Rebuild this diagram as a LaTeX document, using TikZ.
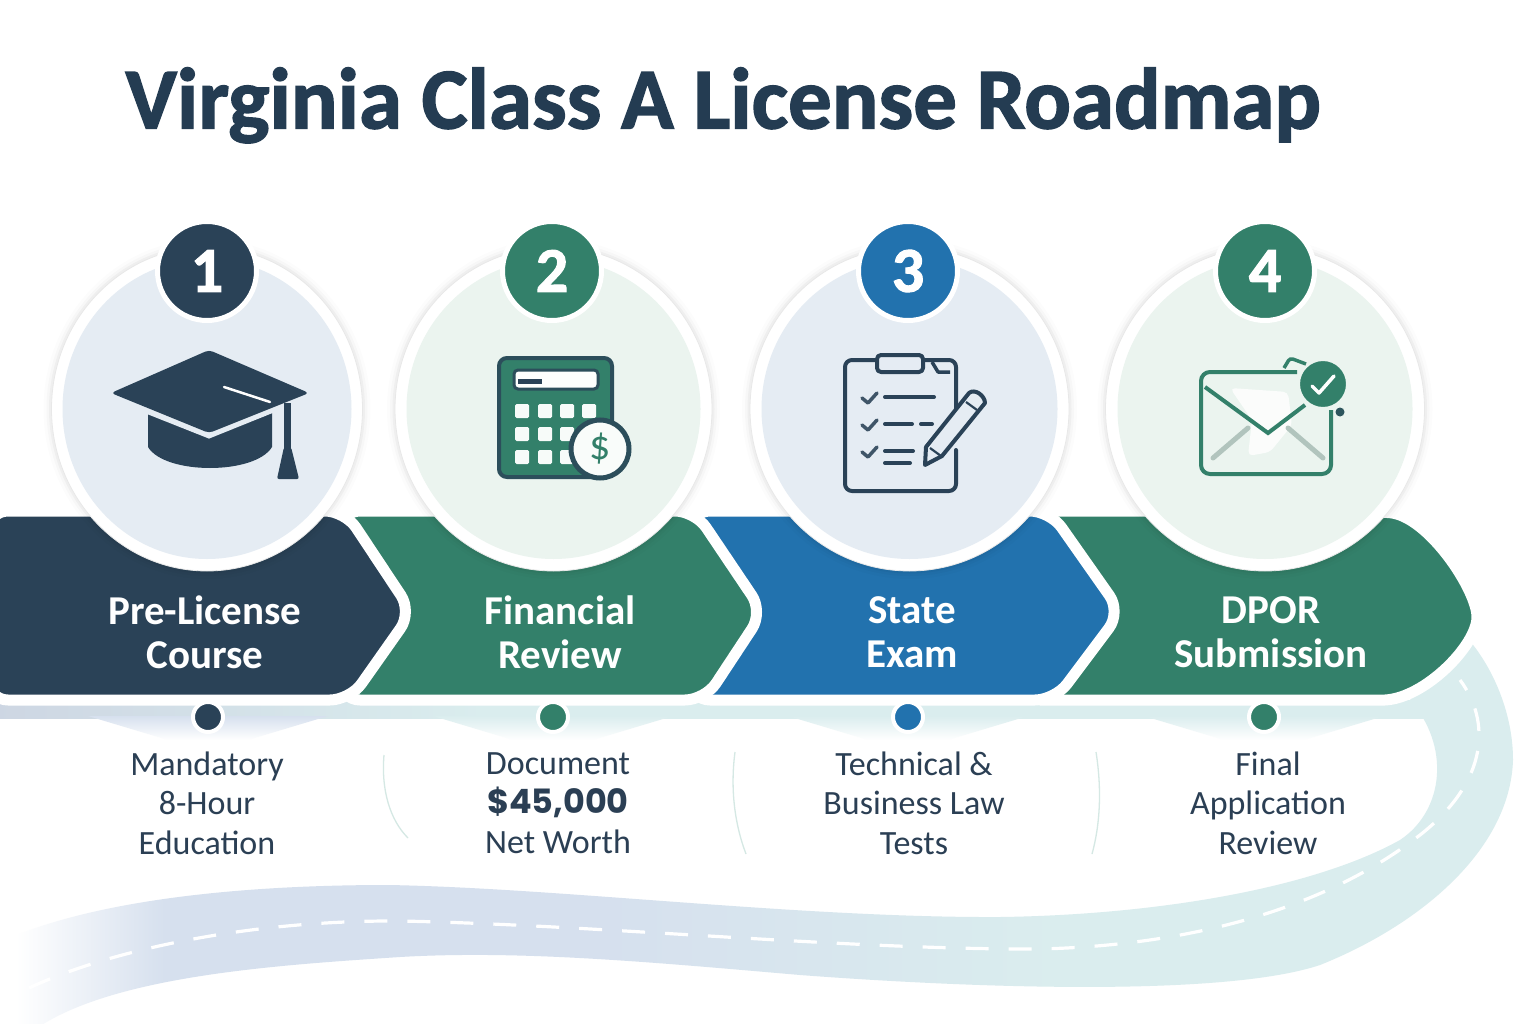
\documentclass[tikz,border=0pt]{standalone}
\usepackage{fontspec}
\setmainfont{Carlito}
\newfontfamily\heavyfont[BoldFont=Carlito Bold,BoldFeatures={FakeBold=1.6}]{Carlito}
\newfontfamily\widefont{Poppins}
\usetikzlibrary{shapes.geometric}
\definecolor{navy}{HTML}{2A4257}
\definecolor{deepnavy}{HTML}{243C52}
\definecolor{forest}{HTML}{33806A}
\definecolor{ocean}{HTML}{2272AE}
\definecolor{paleblue}{HTML}{E5ECF3}
\definecolor{palegreen}{HTML}{EBF4EF}
\definecolor{ink}{HTML}{2B3F54}
\definecolor{roadblue}{HTML}{D6E0EE}
\definecolor{roadteal}{HTML}{DAEDEE}
\definecolor{sepline}{HTML}{D5E8E4}
\pgfdeclarehorizontalshading{roadfade}{100bp}{color(0bp)=(white); color(25.6bp)=(white); color(30.5bp)=(roadblue); color(45bp)=(roadblue); color(60bp)=(roadteal); color(100bp)=(roadteal)}
\pgfdeclarehorizontalshading{bandfade}{100bp}{color(0bp)=(roadblue!90!gray); color(25bp)=(roadblue!90!gray); color(42bp)=(roadteal); color(100bp)=(roadteal)}
\tikzset{
  chevron/.style={draw=white,line width=11pt,rounded corners=20pt,line join=round},
  ring/.style={ellipse,fill=white,draw=black!9,line width=.8pt,inner sep=0pt},
  disc/.style={ellipse,inner sep=0pt},
  badge/.style={circle,draw=white,line width=5pt,minimum size=99pt,inner sep=0pt,text=white,font=\heavyfont\bfseries\fontsize{64}{64}\selectfont},
  dot/.style={circle,draw=white,line width=4pt,minimum size=30pt,inner sep=0pt},
  steplabel/.style={align=center,text=white,font=\bfseries\fontsize{41}{44}\selectfont},
  note/.style={align=center,text=ink,font=\fontsize{34}{39.5}\selectfont},
  sep/.style={draw=sepline,line width=1.3pt},
  iconline/.style={line width=4pt,line cap=round,line join=round}
}
\begin{document}
\begin{tikzpicture}[x=1pt,y=-1pt]
\useasboundingbox (0,0) rectangle (1536,1024);
\fill[white] (0,0) rectangle (1536,1024);

\shade[shading=roadfade] (-2,943) .. controls (90,900) and (240,885) .. (388,885)
  .. controls (560,888) and (800,918) .. (1000,917) .. controls (1150,915) and (1310,890) .. (1400,840)
  .. controls (1445,810) and (1450,745) .. (1410,700) -- (1460,630) .. controls (1490,660) and (1513,710) .. (1513,760)
  .. controls (1510,850) and (1420,925) .. (1320,965) .. controls (1230,995) and (1000,990) .. (800,975)
  .. controls (650,962) and (520,950) .. (400,957) .. controls (280,965) and (120,975) .. (40,1026) -- (-2,1026) -- cycle;
\draw[white,line width=3.2pt,dash pattern=on 23pt off 20pt] (29,988) .. controls (110,950) and (250,920) .. (400,921)
  .. controls (600,925) and (850,950) .. (1040,949) .. controls (1200,945) and (1330,905) .. (1420,835)
  .. controls (1490,780) and (1490,720) .. (1460,680);

\shade[shading=bandfade] (0,700) rectangle (1430,718);
\foreach \bx/\bcol in {208/roadblue,553/roadteal,908/roadteal,1264/roadteal}
  \shade[top color=\bcol,bottom color=white] (\bx-120,716) -- (\bx+120,716) -- (\bx+40,740) -- (\bx-40,740) -- cycle;

\filldraw[chevron,fill=forest] (1040,511) -- (1370,511) [sharp corners] .. controls (1428,516) and (1477,590) .. (1477,617)
  .. controls (1477,645) and (1425,698) .. (1385,700) -- (1040,700) -- cycle;
\filldraw[chevron,fill=ocean] (690,511) -- (1050,511) -- (1121,612) -- (1055,700) -- (690,700) -- cycle;
\filldraw[chevron,fill=forest] (340,511) -- (695,511) -- (763,612) -- (705,700) -- (340,700) -- cycle;
\filldraw[chevron,fill=navy] (-12,511) -- (345,511) -- (412,612) -- (350,700) -- (-12,700) -- cycle;

\foreach \n/\cx/\ow/\iw/\pale/\tone/\bx in {1/207/311/289/paleblue/navy/207,2/553.5/317/294/palegreen/forest/552,3/909.5/319/296/paleblue/ocean/908,4/1265/319/295/palegreen/forest/1265}{
  \foreach \w/\a in {8/.012,5/.02,2.5/.03}
    \fill[black,opacity=\a] (\cx,409) ellipse ({\ow/2+\w} and {162+\w});
  \node[ring,minimum width=\ow pt,minimum height=324pt] (ring\n) at (\cx,409) {};
  \node[disc,fill=\pale,minimum width=\iw pt,minimum height=300pt] (disc\n) at (\cx,409) {};
  \node[badge,fill=\tone] (badge\n) at (\bx,271) {\n};
}

\foreach \n/\dx/\tone in {1/208/navy,2/553/forest,3/908/ocean,4/1264/forest}
  \node[dot,fill=\tone] (dot\n) at (\dx,717) {};

% cap
\fill[navy,rounded corners=4pt] (111,393) -- (209,350) -- (309,393) -- (209,433) -- cycle;
\fill[navy] (148,413) -- (209,437) -- (272,413) -- (272,447) .. controls (255,475) and (165,475) .. (148,447) -- cycle;
\draw[paleblue,line width=3pt] (146,412) -- (209,437) -- (276,410);
\draw[white,line width=2.5pt,line cap=round] (224,387) -- (270,402);
\fill[navy] (284,403) rectangle (291,450);
\fill[navy,rounded corners=2pt] (284,447) -- (291,447) -- (299,479) -- (277,479) -- cycle;

% calculator
\filldraw[draw=navy!80!forest,fill=forest,line width=4pt,rounded corners=8pt] (499,358) rectangle (612,477);
\filldraw[draw=navy!80!forest,fill=white!90!palegreen,line width=3pt,rounded corners=4pt] (514,370) rectangle (598,389);
\draw[navy,line width=5pt] (518,381) -- (542,381);
\foreach \kx in {522,545,567,589}
  \foreach \ky in {411,434,457}
    \fill[white!60!palegreen,rounded corners=1.5pt] (\kx-7,\ky-7) rectangle (\kx+7,\ky+7);
\node[circle,draw=navy!80!forest,fill=white!70!palegreen,line width=5pt,minimum size=58pt,inner sep=0pt,text=forest,font=\fontsize{42}{42}\selectfont] (coin) at (600,449) {\$};

% clipboard
\draw[iconline,navy,rounded corners=7pt] (956,409) -- (956,360) -- (845,360) -- (845,491) -- (956,491) -- (956,450);
\filldraw[iconline,navy,fill=paleblue,rounded corners=4pt] (877,355) rectangle (923,372);
\draw[navy,line width=3.5pt,line join=round,fill=paleblue] (932,362) -- (938,372) -- (950,372);
\foreach \cy in {398,425,452}
  \draw[iconline,navy!90,line width=3.5pt] (862,\cy) -- (868,\cy+5) -- (877,\cy-5);
\draw[iconline,navy] (885,397) -- (934,397);
\draw[iconline,navy] (885,424) -- (912,424);
\draw[iconline,navy] (921,424) -- (932,424);
\draw[iconline,navy] (885,451) -- (913,451);
\draw[iconline,navy] (885,463) -- (910,463);
\filldraw[navy,fill=paleblue,line width=4pt,line join=round] (926,447) -- (969,393) .. controls (975,388) and (985,396) .. (985,403) -- (942,456) -- (925,465) -- cycle;
\draw[navy,line width=2.2pt] (966,402) -- (977,410);
\draw[navy,line width=2.2pt] (930,448) -- (941,456);

% envelope
\fill[white,opacity=.8,rounded corners=5pt] (1230,388) -- (1288,392) -- (1292,425) -- (1270,452) -- (1248,456) -- (1252,420) -- cycle;
\draw[black!15!palegreen!85!forest,line width=5pt,line cap=round] (1213,458) -- (1248,428);
\draw[black!15!palegreen!85!forest,line width=5pt,line cap=round] (1288,428) -- (1323,458);
\draw[forest,line width=4pt,rounded corners=9pt] (1297,372) -- (1201,372) -- (1201,474) -- (1331,474) -- (1331,410);
\draw[forest,line width=4pt] (1205,387) -- (1268,433) -- (1305,405);
\draw[forest,line width=3.5pt,rounded corners=3pt] (1284,368) -- (1290,358) -- (1306,364);
\node[circle,fill=forest,draw=palegreen,line width=2pt,minimum size=48pt,inner sep=0pt] (seal) at (1323,384) {};
\draw[white,line width=3.5pt,line cap=round,line join=round] (1312,386) -- (1319,393) -- (1334,376);
\node[circle,fill=navy!70!forest,minimum size=9pt,inner sep=0pt] (speck) at (1340,412) {};

\node[text=deepnavy,font=\heavyfont\bfseries\fontsize{87}{87}\selectfont,anchor=base west] (title) at (122,128.5) {Virginia Class A License Roadmap};

\node[steplabel] (label1) at (205,632) {Pre-License\\Course};
\node[steplabel] (label2) at (560,632) {Financial\\Review};
\node[steplabel] (label3) at (912,632) {State\\Exam};
\node[steplabel] (label4) at (1271,632) {DPOR\\Submission};

\node[note] (note1) at (207,803) {Mandatory\\8-Hour\\Education};
\node[note] (note2) at (558,803) {Document\\{\widefont\bfseries\fontsize{33.5}{39.5}\selectfont\$45,000}\\Net Worth};
\node[note] (note3) at (914,803) {Technical \&\\Business Law\\Tests};
\node[note] (note4) at (1268,803) {Final\\Application\\Review};

\draw[sep] (384,755) .. controls (381,790) and (390,820) .. (408,838);
\draw[sep] (735,752) .. controls (730,790) and (735,825) .. (746,854);
\draw[sep] (1096,752) .. controls (1102,790) and (1100,825) .. (1092,854);
\end{tikzpicture}
\end{document}
